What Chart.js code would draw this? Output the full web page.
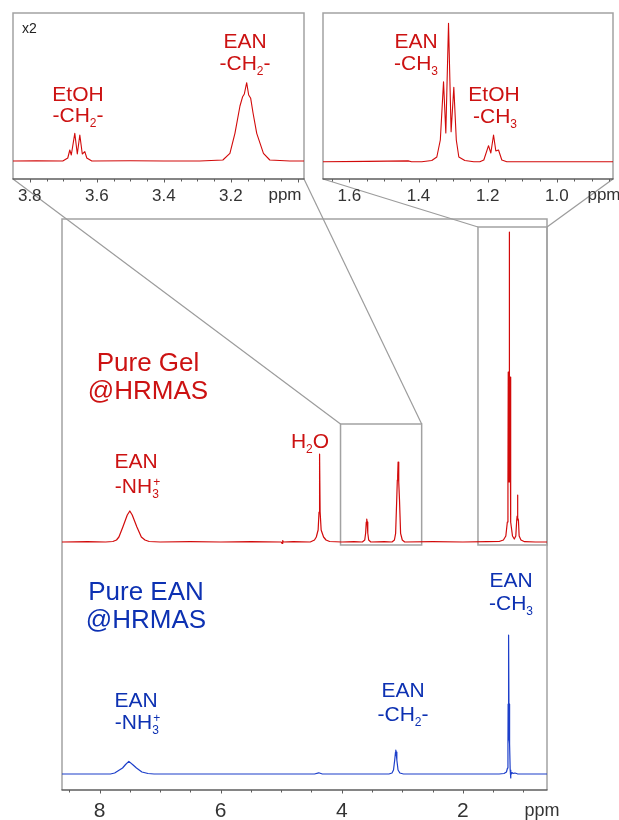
<!DOCTYPE html>
<html>
<head>
<meta charset="utf-8">
<title>1H HRMAS NMR – Pure Gel vs Pure EAN</title>
<script src="https://cdn.jsdelivr.net/npm/chart.js@4/dist/chart.umd.min.js"></script>
<style>
  html, body { margin: 0; padding: 0; background: #ffffff; }
  #wrap { position: relative; width: 619px; height: 820px; overflow: hidden; }
  #wrap canvas { position: absolute; left: 0; top: 0; }
</style>
</head>
<body>
<div id="wrap">
  <canvas id="main" width="619" height="820"></canvas>
  <canvas id="insetA" width="619" height="820"></canvas>
  <canvas id="insetB" width="619" height="820"></canvas>
</div>
<script>
// ---------- tick labels ----------
const mainTicks   = [8, 6, 4, 2];
const insetATicks = [3.8, 3.6, 3.4, 3.2];
const insetBTicks = [1.6, 1.4, 1.2, 1.0];

// ---------- Pure Gel spectrum (chemical shift in ppm, intensity) ----------
const gelPpm = [8.62, 8.20, 7.90, 7.78, 7.72, 7.68, 7.615, 7.542, 7.50, 7.46, 7.383, 7.31, 7.25, 7.18,
  7.00, 6.50, 6.00, 5.50, 5.00, 4.985, 4.975, 4.965, 4.80,
  4.52, 4.45, 4.42, 4.39, 4.375, 4.366, 4.357, 4.34, 4.30, 4.26, 4.20, 4.00, 3.80,
  3.66, 3.62, 3.605, 3.595, 3.587, 3.58, 3.57, 3.555, 3.52, 3.30,
  3.17, 3.13, 3.11, 3.092, 3.082, 3.076, 3.069, 3.062, 3.055, 3.046, 3.028, 3.00, 2.96,
  2.50, 2.00, 1.60, 1.40, 1.33, 1.29, 1.265, 1.255, 1.25, 1.245, 1.2375, 1.235, 1.2325, 1.225, 1.22, 1.215, 1.205,
  1.18, 1.15, 1.125, 1.11, 1.103, 1.098, 1.096, 1.094, 1.089, 1.082, 1.07, 1.04, 0.98, 0.80, 0.61];
const gelInt = [0, 0.3, 0, 0.5, 2, 5, 15, 27, 31, 27, 15, 5, 2, 0.5,
  0, 0.3, 0, 0.4, 0, -1.5, 1.5, 0, 0.3,
  0, 2, 5, 12, 30, 88, 30, 12, 5, 2, 0.5, 0, 0.3,
  0, 2, 9, 20, 23, 20, 9, 2, 0, 0.3,
  0, 2, 8.7, 42, 62, 66, 80, 64, 60, 42, 8.7, 2, 0,
  0.3, 0, 0.4, 0.5, 2, 6, 20, 60, 170, 60, 90, 310, 90, 60, 165, 60, 20,
  6, 3, 6, 22, 26, 22, 47, 22, 24, 22, 6, 2, 0.3, 0, 0];

// ---------- Pure EAN spectrum ----------
const eanPpm = [8.62, 8.00, 7.82, 7.75, 7.62, 7.57, 7.516, 7.45, 7.39, 7.30, 7.20, 7.10,
  6.00, 5.00, 4.45, 4.38, 4.32, 3.60,
  3.22, 3.17, 3.145, 3.125, 3.112, 3.107, 3.102, 3.09, 3.07, 3.04, 2.98,
  2.00, 1.40, 1.32, 1.28, 1.262, 1.255, 1.252, 1.249, 1.244, 1.24, 1.236, 1.231, 1.228, 1.225,
  1.218, 1.212, 1.205, 1.19, 1.17, 1.14, 1.10, 0.61];
const eanInt = [0, 0, 0, 1, 6, 9.5, 12.6, 9.3, 6, 2, 0.5, 0,
  0, 0, 0, 1.2, 0, 0,
  0, 1, 4, 14, 22, 24, 22, 14, 4, 1, 0,
  0, 0, 0.5, 2, 6, 30, 70, 34, 36, 139, 36, 34, 70, 30,
  4, -4, -1, 1.5, 0.5, 1, 0.2, 0];

// ---------- Pure Gel, expanded 3.0–3.85 ppm (x2) ----------
const zoomCH2Ppm = [3.85, 3.78, 3.7015, 3.6866, 3.6806, 3.6761, 3.6657, 3.6582, 3.6507, 3.6433, 3.6358, 3.6299, 3.6149,
  3.50, 3.40, 3.293, 3.224, 3.203, 3.188, 3.173, 3.165, 3.160, 3.153, 3.147, 3.141, 3.134, 3.123, 3.103, 3.084, 3.024, 2.98];
const zoomCH2Int = [0, 0.3, 0, 3, 11, 6, 27.7, 7, 26, 7, 9.3, 3, 0,
  0.3, 0, 0, 1, 7.7, 27.7, 55, 64.3, 67, 78.3, 66, 62.7, 48, 27.7, 7.7, 1, 0, 0];

// ---------- Pure Gel, expanded 0.84–1.68 ppm ----------
const zoomCH3Ppm = [1.676, 1.55, 1.43, 1.42, 1.3905, 1.3616, 1.3471, 1.337, 1.3277, 1.3211, 1.3133, 1.3058, 1.298,
  1.2908, 1.2835, 1.2662, 1.2402, 1.2228, 1.2113, 1.1977, 1.191, 1.1832, 1.1766, 1.1688, 1.1593, 1.1448, 1.0, 0.838];
const zoomCH3Int = [0, 0.3, 0.8, 0, 0, 1.2, 4.7, 21.7, 80, 28.7, 138.4, 30, 74.4,
  21.7, 4.7, 1.2, 0, 0, 1.7, 16, 8.7, 26.7, 10.7, 11.7, 1.7, 0, 0, 0];

// ---------- styling ----------
const FONT = '"Liberation Sans", Arial, Helvetica, sans-serif';
const RED = '#d20a0a', RED_TEXT = '#cc1212';
const BLUE = '#1d3fca', BLUE_TEXT = '#0d31b2';
const FRAME = '#a2a2a2', AXIS = '#5c5c5c', LINK = '#9c9c9c', TICK_TEXT = '#333333';
const GEL_OFFSET = 232;   // vertical offset of the gel trace above the EAN trace

function series(ppm, intensity, offset) {
  return ppm.map((x, i) => ({ x: x, y: intensity[i] + offset }));
}

// text with sub/superscripts, centred on cx, sitting on baseline
function rich(ctx, parts, cx, base, size, color) {
  const small = Math.round(size * 0.58);
  const big = size + 'px ' + FONT, little = small + 'px ' + FONT;
  const widthOf = p => {
    if (typeof p === 'string') { ctx.font = big; return ctx.measureText(p).width; }
    ctx.font = little;
    return Math.max(p.sub ? ctx.measureText(p.sub).width : 0, p.sup ? ctx.measureText(p.sup).width : 0);
  };
  const total = parts.reduce((s, p) => s + widthOf(p), 0);
  let x = cx - total / 2;
  ctx.save();
  ctx.fillStyle = color;
  ctx.textAlign = 'left';
  ctx.textBaseline = 'alphabetic';
  for (const p of parts) {
    const w = widthOf(p);
    if (typeof p === 'string') {
      ctx.font = big; ctx.fillText(p, x, base);
    } else {
      ctx.font = little;
      if (p.sub) ctx.fillText(p.sub, x, base + size * 0.22);
      if (p.sup) ctx.fillText(p.sup, x + 1, base - size * 0.32);
    }
    x += w;
  }
  ctx.restore();
}

function line(ctx, x1, y1, x2, y2, color, width) {
  ctx.save();
  ctx.strokeStyle = color; ctx.lineWidth = width;
  ctx.beginPath(); ctx.moveTo(x1, y1); ctx.lineTo(x2, y2); ctx.stroke();
  ctx.restore();
}

function drawTicks(ctx, scale, y, from, to, step, majorStep, majorLen, minorLen) {
  const n = Math.round((from - to) / step);
  ctx.save();
  ctx.strokeStyle = AXIS; ctx.lineWidth = 1;
  for (let i = 0; i <= n; i++) {
    const v = from - i * step;
    const r = v / majorStep;
    const major = Math.abs(r - Math.round(r)) < 1e-6;
    const px = Math.round(scale.getPixelForValue(v)) + 0.5;
    ctx.beginPath(); ctx.moveTo(px, y); ctx.lineTo(px, y + (major ? majorLen : minorLen)); ctx.stroke();
  }
  ctx.restore();
}

function drawFrame(ctx, a, bottomAxis) {
  ctx.save();
  ctx.strokeStyle = FRAME; ctx.lineWidth = 1.5;
  ctx.beginPath();
  ctx.moveTo(a.left, a.bottom); ctx.lineTo(a.left, a.top);
  ctx.lineTo(a.right, a.top); ctx.lineTo(a.right, a.bottom);
  ctx.stroke();
  ctx.restore();
  if (bottomAxis) line(ctx, a.left - 0.5, a.bottom, a.right + 0.5, a.bottom, AXIS, 1.3);
}

const common = {
  responsive: false,
  animation: false,
  devicePixelRatio: 1,
  events: [],
  plugins: { legend: { display: false }, tooltip: { enabled: false } },
  elements: { point: { radius: 0 }, line: { tension: 0, borderJoinStyle: 'round' } }
};

function xScale(min, max, ticks, size, pad, fmt) {
  return {
    type: 'linear', reverse: true, min: min, max: max,
    grid: { display: false, drawTicks: false }, border: { display: false },
    ticks: { font: { family: FONT, size: size }, color: TICK_TEXT, padding: pad,
             autoSkip: false, maxRotation: 0, callback: fmt },
    afterBuildTicks: s => { s.ticks = ticks.map(v => ({ value: v })); },
    afterFit: s => { s.height = 30; }
  };
}

// ---------- expanded views ----------
function insetPlugin(opts) {
  return {
    id: 'insetDecor',
    beforeDatasetsDraw(chart) {
      const ctx = chart.ctx, a = chart.chartArea, sx = chart.scales.x;
      drawFrame(ctx, a, true);
      drawTicks(ctx, sx, a.bottom, opts.tickFrom, opts.tickTo, 0.05, 0.2, 3.5, 2.5);
    },
    afterDraw(chart) {
      const ctx = chart.ctx;
      ctx.save();
      ctx.font = '17px ' + FONT; ctx.fillStyle = TICK_TEXT;
      ctx.textAlign = 'center'; ctx.textBaseline = 'alphabetic';
      ctx.fillText('ppm', opts.ppmX, 200);
      if (opts.factor) {
        ctx.font = '14px ' + FONT; ctx.textAlign = 'left'; ctx.fillStyle = '#222';
        ctx.fillText(opts.factor, 22, 33);
      }
      ctx.restore();
      for (const l of opts.labels) rich(ctx, l.parts, l.x, l.y, 21, RED_TEXT);
    }
  };
}

const insetA = new Chart(document.getElementById('insetA'), {
  type: 'line',
  data: { datasets: [{ data: series(zoomCH2Ppm, zoomCH2Int, 0), borderColor: RED, borderWidth: 1.1 }] },
  options: Object.assign({}, common, {
    layout: { padding: { left: 13, right: 315, top: 13, bottom: 611 } },
    scales: {
      x: xScale(2.982, 3.85, insetATicks, 17, 7, v => v.toFixed(1)),
      y: { display: false, min: -18, max: 148 }
    }
  }),
  plugins: [insetPlugin({
    tickFrom: 3.80, tickTo: 3.00, ppmX: 285, factor: 'x2',
    labels: [
      { parts: ['EAN'], x: 245, y: 48 },
      { parts: ['-CH', { sub: '2' }, '-'], x: 245, y: 70 },
      { parts: ['EtOH'], x: 78, y: 101 },
      { parts: ['-CH', { sub: '2' }, '-'], x: 78, y: 122 }
    ]
  })]
});

const insetB = new Chart(document.getElementById('insetB'), {
  type: 'line',
  data: { datasets: [{ data: series(zoomCH3Ppm, zoomCH3Int, 0), borderColor: RED, borderWidth: 1.1 }] },
  options: Object.assign({}, common, {
    layout: { padding: { left: 323, right: 6, top: 13, bottom: 611 } },
    scales: {
      x: xScale(0.838, 1.676, insetBTicks, 17, 7, v => v.toFixed(1)),
      y: { display: false, min: -17.3, max: 148.7 }
    }
  }),
  plugins: [insetPlugin({
    tickFrom: 1.65, tickTo: 0.85, ppmX: 604,
    labels: [
      { parts: ['EAN'], x: 416, y: 48 },
      { parts: ['-CH', { sub: '3' }], x: 416, y: 70 },
      { parts: ['EtOH'], x: 494, y: 101 },
      { parts: ['-CH', { sub: '3' }], x: 495, y: 123 }
    ]
  })]
});

// ---------- main spectrum ----------
const zoomBoxes = [
  { from: 4.02, to: 2.68, low: GEL_OFFSET - 3, high: GEL_OFFSET + 118, inset: insetA },
  { from: 1.75, to: 0.61, low: GEL_OFFSET - 3, high: GEL_OFFSET + 315, inset: insetB }
];

const mainLabels = [
  { parts: ['Pure Gel'], x: 148, y: 371, size: 26, color: RED_TEXT },
  { parts: ['@HRMAS'], x: 148, y: 399, size: 26, color: RED_TEXT },
  { parts: ['EAN'], x: 136, y: 468, size: 21, color: RED_TEXT },
  { parts: ['-NH', { sub: '3', sup: '+' }], x: 137, y: 493, size: 21, color: RED_TEXT },
  { parts: ['H', { sub: '2' }, 'O'], x: 310, y: 448, size: 21, color: RED_TEXT },
  { parts: ['Pure EAN'], x: 146, y: 600, size: 26, color: BLUE_TEXT },
  { parts: ['@HRMAS'], x: 146, y: 628, size: 26, color: BLUE_TEXT },
  { parts: ['EAN'], x: 136, y: 707, size: 21, color: BLUE_TEXT },
  { parts: ['-NH', { sub: '3', sup: '+' }], x: 137, y: 729, size: 21, color: BLUE_TEXT },
  { parts: ['EAN'], x: 403, y: 697, size: 21, color: BLUE_TEXT },
  { parts: ['-CH', { sub: '2' }, '-'], x: 403, y: 721, size: 21, color: BLUE_TEXT },
  { parts: ['EAN'], x: 511, y: 587, size: 21, color: BLUE_TEXT },
  { parts: ['-CH', { sub: '3' }], x: 511, y: 610, size: 21, color: BLUE_TEXT }
];

const mainDecor = {
  id: 'mainDecor',
  beforeDatasetsDraw(chart) {
    const ctx = chart.ctx, a = chart.chartArea, sx = chart.scales.x, sy = chart.scales.y;
    drawFrame(ctx, a, true);
    drawTicks(ctx, sx, a.bottom, 8.5, 1.0, 0.5, 2, 3.5, 2.5);
    for (const b of zoomBoxes) {
      const x1 = sx.getPixelForValue(b.from), x2 = sx.getPixelForValue(b.to);
      const yTop = sy.getPixelForValue(b.high), yBot = sy.getPixelForValue(b.low);
      ctx.save();
      ctx.strokeStyle = FRAME; ctx.lineWidth = 1.5;
      ctx.strokeRect(x1, yTop, x2 - x1, yBot - yTop);
      ctx.restore();
      const ia = b.inset.chartArea;
      line(ctx, ia.left, ia.bottom, x1, yTop, LINK, 1.2);
      line(ctx, ia.right, ia.bottom, x2, yTop, LINK, 1.2);
    }
  },
  afterDraw(chart) {
    const ctx = chart.ctx;
    ctx.save();
    ctx.font = '18px ' + FONT; ctx.fillStyle = TICK_TEXT;
    ctx.textAlign = 'center'; ctx.textBaseline = 'alphabetic';
    ctx.fillText('ppm', 542, 816);
    ctx.restore();
    for (const l of mainLabels) rich(ctx, l.parts, l.x, l.y, l.size, l.color);
  }
};

new Chart(document.getElementById('main'), {
  type: 'line',
  data: { datasets: [
    { label: 'Pure Gel', data: series(gelPpm, gelInt, GEL_OFFSET), borderColor: RED, borderWidth: 1.2 },
    { label: 'Pure EAN', data: series(eanPpm, eanInt, 0), borderColor: BLUE, borderWidth: 1.2 }
  ] },
  options: Object.assign({}, common, {
    layout: { padding: { left: 62, right: 72, top: 219, bottom: 0 } },
    scales: {
      x: xScale(0.61, 8.62, mainTicks, 21, 9, v => String(v)),
      y: { display: false, min: -16, max: 555 }
    }
  }),
  plugins: [mainDecor]
});
</script>
</body>
</html>
